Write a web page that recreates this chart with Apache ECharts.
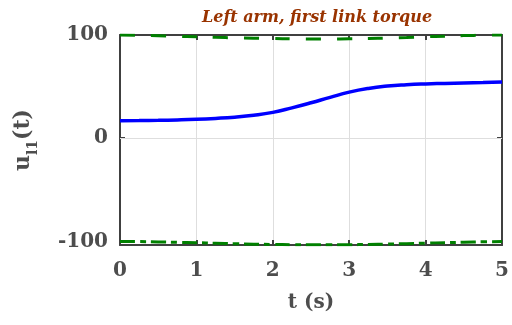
<!DOCTYPE html>
<html>
<head>
<meta charset="utf-8">
<script src="https://cdn.jsdelivr.net/npm/echarts@6/dist/echarts.min.js"></script>
<style>
  html, body { margin: 0; padding: 0; background: #fff; }
  #chart { width: 512px; height: 325px; }
</style>
</head>
<body>
<div id="chart"></div>
<script>
// Sample times (s)
const time = [0, 0.25, 0.5, 0.75, 1, 1.25, 1.5, 1.75, 2, 2.25, 2.5, 2.75, 3, 3.25, 3.5, 3.75, 4, 4.25, 4.5, 4.75, 5];
// First link torque of the left arm
const torque = [17, 17.1, 17.3, 17.7, 18.3, 19.2, 20.4, 22.2, 25.0, 29.4, 34.3, 39.6, 44.6, 48.2, 50.5, 51.8, 52.6, 53.1, 53.6, 54.0, 54.4];
// Upper and lower torque bounds
const upperBound = [100, 99.7, 99.3, 98.8, 98.2, 97.7, 97.3, 96.9, 96.6, 96.3, 96.1, 96.1, 96.3, 96.6, 97.0, 97.6, 98.3, 98.9, 99.4, 99.8, 100];
const lowerBound = [-100, -100.2, -100.5, -100.9, -101.3, -101.8, -102.3, -102.7, -103.0, -103.2, -103.3, -103.3, -103.2, -103.0, -102.6, -102.2, -101.7, -101.2, -100.8, -100.4, -100.1];
// Axis tick values
const xTicks = [0, 1, 2, 3, 4, 5];
const yTicks = [-100, 0, 100];

const pairs = (ys) => time.map((t, i) => [t, ys[i]]);

const labelFont = { fontFamily: 'DejaVu Serif', fontWeight: 'bold', fontSize: 20, color: '#4d4d4d' };
const frameLine = { show: true, onZero: false, lineStyle: { color: '#404040', width: 2 } };
const tickStyle = { show: true, inside: true, length: 5, lineStyle: { color: '#404040', width: 2 } };

const chart = echarts.init(document.getElementById('chart'), null, { renderer: 'canvas' });
chart.setOption({
  animation: false,
  backgroundColor: '#ffffff',
  title: {
    text: 'Left arm, first link torque',
    left: 312, top: 5, textAlign: 'center',
    textStyle: { fontFamily: 'DejaVu Serif', fontStyle: 'italic', fontWeight: 'bold', fontSize: 16, color: '#993300' }
  },
  grid: { left: 120, right: 7, top: 35, bottom: 80 },
  xAxis: [{
    type: 'value', min: 0, max: 5, interval: 1,
    name: 't (s)', nameLocation: 'middle', nameGap: 48,
    nameTextStyle: { fontFamily: 'DejaVu Serif', fontWeight: 'bold', fontSize: 20, color: '#4d4d4d' },
    axisLine: frameLine, axisTick: tickStyle,
    axisLabel: Object.assign({ margin: 16, customValues: xTicks }, labelFont),
    splitLine: { show: true, lineStyle: { color: '#dedede', width: 1 } }
  }, {
    type: 'value', position: 'top', min: 0, max: 5, interval: 1,
    axisLine: frameLine, axisTick: tickStyle,
    axisLabel: { show: false }, splitLine: { show: false }
  }],
  yAxis: [{
    type: 'value', min: -103.5, max: 100,
    name: '{u|u}{sub|l1}{u|(t)}', nameLocation: 'middle', nameGap: 86, nameRotate: 90,
    nameTextStyle: {
      rich: {
        u: { fontFamily: 'DejaVu Serif', fontWeight: 'bold', fontSize: 22, color: '#4d4d4d', verticalAlign: 'bottom', lineHeight: 26 },
        sub: { fontFamily: 'DejaVu Serif', fontWeight: 'bold', fontSize: 14, color: '#4d4d4d', verticalAlign: 'bottom', lineHeight: 26, padding: [0, 0, -6, 0] }
      }
    },
    axisLine: frameLine,
    axisTick: Object.assign({ customValues: [0] }, tickStyle),
    axisLabel: Object.assign({ margin: 12, customValues: yTicks }, labelFont),
    splitLine: { show: false }
  }, {
    type: 'value', position: 'right', min: -103.5, max: 100,
    axisLine: frameLine,
    axisTick: Object.assign({ customValues: [0] }, tickStyle),
    axisLabel: { show: false }, splitLine: { show: false }
  }],
  series: [{
    type: 'line', data: pairs(torque), smooth: true, showSymbol: false,
    lineStyle: { color: '#0000ff', width: 3.5 }, z: 3,
    markLine: {
      silent: true, symbol: 'none', label: { show: false },
      lineStyle: { color: '#dedede', width: 1, type: 'solid' },
      data: [{ yAxis: 0 }], z: 1
    }
  }, {
    type: 'line', data: pairs(upperBound), smooth: true, showSymbol: false,
    lineStyle: { color: '#008000', width: 3, type: [15, 16] }, z: 4
  }, {
    type: 'line', data: pairs(lowerBound), smooth: true, showSymbol: false,
    lineStyle: { color: '#008000', width: 3, type: [15, 5, 6, 5] }, z: 4
  }]
});
</script>
</body>
</html>
